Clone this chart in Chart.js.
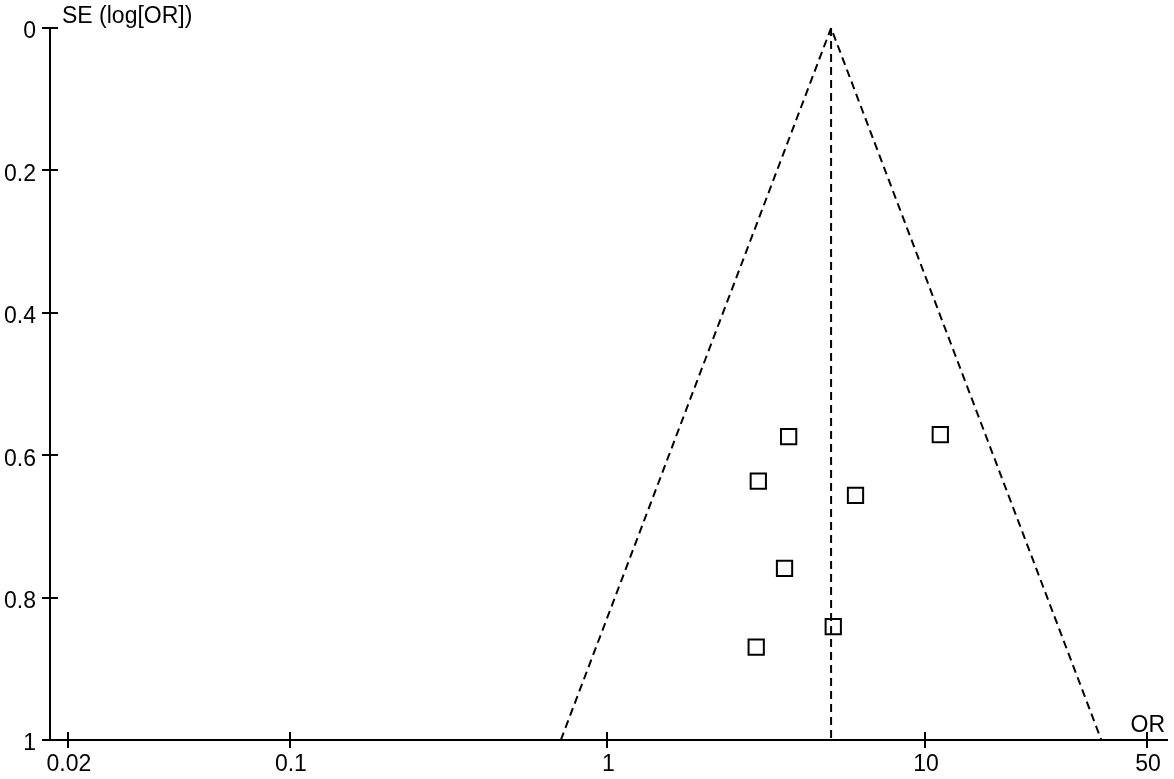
<!DOCTYPE html>
<html>
<head>
<meta charset="utf-8">
<script src="https://cdn.jsdelivr.net/npm/chart.js@4/dist/chart.umd.min.js"></script>
<style>
  html, body { margin: 0; padding: 0; background: #fff; }
  #wrap { width: 1174px; height: 779px; }
</style>
</head>
<body>
<div id="wrap"><canvas id="funnel"></canvas></div>
<script>
// study estimates (OR) and their standard errors of log(OR)
const studyOR = [3.72, 11.17, 2.985, 6.04, 3.61, 5.14, 2.94];
const studySE = [0.574, 0.571, 0.6365, 0.6564, 0.7589, 0.8407, 0.8695];

// pooled estimate and the 95% pseudo-confidence funnel
const pooledOR = [5.06, 5.06];
const pooledSE = [0, 1];
const funnelOR = [0.713, 5.06, 35.9];
const funnelSE = [1, 0, 1];

// axis ticks
const xTicks = [0.02, 0.1, 1, 10, 50];
const yTicks = [0, 0.2, 0.4, 0.6, 0.8, 1];

const FONT = '"Liberation Sans", Arial, sans-serif';

function toPoints(xs, ys) {
    return xs.map((x, i) => ({ x: x, y: ys[i] }));
}

// ticks that cross the axis line, x labels and the two axis captions
const crossTicks = {
    id: "crossTicks",
    afterDraw(chart) {
        const ctx = chart.ctx;
        const area = chart.chartArea;
        const xs = chart.scales.x;
        const ys = chart.scales.y;
        ctx.save();
        ctx.strokeStyle = "#000";
        ctx.lineWidth = 2;
        ctx.beginPath();
        xTicks.forEach(v => {
            const px = Math.round(xs.getPixelForValue(v));
            ctx.moveTo(px, area.bottom - 8);
            ctx.lineTo(px, area.bottom + 8);
        });
        yTicks.forEach(v => {
            const py = Math.round(ys.getPixelForValue(v));
            ctx.moveTo(area.left - 8, py);
            ctx.lineTo(area.left + 8, py);
        });
        ctx.stroke();

        ctx.fillStyle = "#000";
        ctx.font = "23px " + FONT;
        ctx.textBaseline = "alphabetic";
        ctx.textAlign = "center";
        xTicks.forEach(v => {
            ctx.fillText(String(v), xs.getPixelForValue(v) + 1, area.bottom + 31);
        });

        ctx.textAlign = "left";
        ctx.fillText("SE (log[OR])", area.left + 12, area.top - 5);
        ctx.textAlign = "right";
        ctx.fillText("OR", area.right - 2, area.bottom - 8);
        ctx.restore();
    }
};

new Chart(document.getElementById("funnel"), {
    type: "scatter",
    data: {
        datasets: [
            {
                label: "funnel",
                data: toPoints(funnelOR, funnelSE),
                showLine: true,
                borderColor: "#000",
                borderWidth: 2,
                borderDash: [8, 5],
                pointRadius: 0,
                fill: false
            },
            {
                label: "pooled",
                data: toPoints(pooledOR, pooledSE),
                showLine: true,
                borderColor: "#000",
                borderWidth: 2,
                borderDash: [8, 5],
                pointRadius: 0,
                fill: false
            },
            {
                label: "studies",
                data: toPoints(studyOR, studySE),
                pointStyle: "rect",
                pointRadius: 10.8,
                pointBorderWidth: 2,
                pointBorderColor: "#000",
                pointBackgroundColor: "rgba(255,255,255,0)"
            }
        ]
    },
    options: {
        responsive: true,
        maintainAspectRatio: false,
        animation: false,
        // autoPadding would reserve room for the square markers and shrink the plot
        layout: { autoPadding: false, padding: { top: 28, right: 7, bottom: 0, left: 0 } },
        plugins: {
            legend: { display: false },
            tooltip: { enabled: false }
        },
        scales: {
            x: {
                type: "logarithmic",
                min: 0.01756,
                max: 57.8,
                grid: { display: false },
                border: { display: true, color: "#000", width: 2 },
                afterBuildTicks: s => { s.ticks = xTicks.map(v => ({ value: v })); },
                afterFit: s => { s.height = 39; },
                ticks: { display: false }
            },
            y: {
                type: "linear",
                reverse: true,
                min: 0,
                max: 1,
                grid: { display: false },
                border: { display: true, color: "#000", width: 2 },
                afterBuildTicks: s => { s.ticks = yTicks.map(v => ({ value: v })); },
                afterFit: s => { s.width = 50; },
                ticks: {
                    color: "#000",
                    padding: 6,
                    labelOffset: 4,
                    autoSkip: false,
                    font: { family: FONT, size: 23 },
                    callback: v => String(v)
                }
            }
        }
    },
    plugins: [crossTicks]
});
</script>
</body>
</html>
